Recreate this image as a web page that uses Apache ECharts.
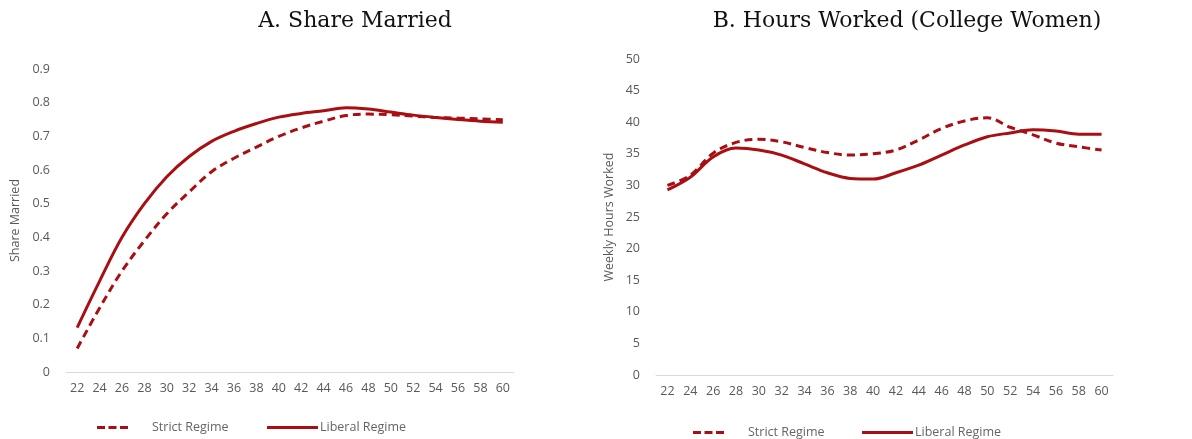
<!DOCTYPE html>
<html>
<head>
<meta charset="utf-8">
<script src="https://cdn.jsdelivr.net/npm/echarts@6/dist/echarts.min.js"></script>
<style>
html, body { margin: 0; padding: 0; background: #fff; }
#chart { width: 1192px; height: 439px; }
</style>
</head>
<body>
<div id="chart"></div>
<script>
// Ages shown on both horizontal axes
const ages = ['22','24','26','28','30','32','34','36','38','40','42','44','46','48','50','52','54','56','58','60'];

// Panel A: share of women married by age
const marriedStrict  = [0.07, 0.19, 0.30, 0.39, 0.47, 0.535, 0.595, 0.635, 0.668, 0.70, 0.725, 0.745, 0.762, 0.766, 0.764, 0.760, 0.756, 0.754, 0.752, 0.749];
const marriedLiberal = [0.132, 0.27, 0.40, 0.50, 0.58, 0.64, 0.685, 0.715, 0.738, 0.757, 0.768, 0.776, 0.785, 0.781, 0.772, 0.763, 0.756, 0.750, 0.745, 0.742];

// Panel B: weekly hours worked, college women
const hoursStrict  = [30.0, 31.6, 35.1, 36.8, 37.3, 36.9, 36.0, 35.2, 34.8, 35.0, 35.6, 37.2, 39.0, 40.2, 40.7, 39.2, 38.0, 36.7, 36.1, 35.6];
const hoursLiberal = [29.3, 31.3, 34.5, 35.9, 35.6, 34.8, 33.4, 32.0, 31.1, 31.0, 32.0, 33.2, 34.8, 36.4, 37.7, 38.3, 38.8, 38.6, 38.1, 38.1];

const seriesNames = ['Strict Regime', 'Liberal Regime'];

const RED = '#a90f12';
const GREY = '#595959';
const labelFont = 'Open Sans';

// Legend keys: three short dashes, or one solid bar
const DASH_ICON = 'path://M0,0h8v3h-8z M11.5,0h8v3h-8z M23,0h8v3h-8z';
const SOLID_ICON = 'path://M0,0h51v3h-51z';

function catAxis(gridIndex) {
  return {
    type: 'category', gridIndex, data: ages, boundaryGap: true,
    axisLine: { show: true, lineStyle: { color: '#d9d9d9', width: 1 } },
    axisTick: { show: false },
    axisLabel: { color: GREY, fontFamily: labelFont, fontSize: 12.5, margin: 10, interval: 0 }
  };
}
function valAxis(gridIndex, min, max, interval, name, nameGap, fmt) {
  return {
    type: 'value', gridIndex, min, max, interval, name,
    nameLocation: 'middle', nameGap,
    nameTextStyle: { color: GREY, fontFamily: labelFont, fontSize: 12.5 },
    axisLine: { show: false }, axisTick: { show: false },
    splitLine: { show: false },
    axisLabel: { color: GREY, fontFamily: labelFont, fontSize: 12.5, margin: 16, formatter: fmt }
  };
}
function lineSeries(name, data, idx, dashed) {
  return {
    name, type: 'line', data, xAxisIndex: idx, yAxisIndex: idx,
    smooth: 0.35, symbol: 'none',
    lineStyle: { color: RED, width: 3, type: dashed ? [8, 5] : 'solid' },
    itemStyle: { color: RED }
  };
}
function legendItem(name, icon, left, top, itemWidth, textPad) {
  return {
    data: [{ name, icon }], left, top, itemWidth, itemHeight: 3.5,
    padding: 0, selectedMode: false,
    itemStyle: { color: RED },
    textStyle: { color: '#666666', fontFamily: labelFont, fontSize: 12.5, padding: [0, 0, 0, textPad] }
  };
}

const chart = echarts.init(document.getElementById('chart'), null, { renderer: 'canvas' });
chart.setOption({
  animation: false,
  backgroundColor: '#ffffff',
  title: [
    { text: 'A. Share Married', left: 350, top: 5, textAlign: 'center',
      textStyle: { fontFamily: 'DejaVu Serif', fontWeight: 'normal', fontSize: 22, color: '#111' } },
    { text: 'B. Hours Worked (College Women)', left: 902, top: 5, textAlign: 'center',
      textStyle: { fontFamily: 'DejaVu Serif', fontWeight: 'normal', fontSize: 22, color: '#111' } }
  ],
  legend: [
    legendItem(seriesNames[0], DASH_ICON, 97, 421, 31, 19),
    legendItem(seriesNames[1], SOLID_ICON, 267, 421, 51, -3),
    legendItem(seriesNames[0], DASH_ICON, 693, 426, 31, 19),
    legendItem(seriesNames[1], SOLID_ICON, 862, 426, 51, -3)
  ],
  grid: [
    { left: 66, right: 678, top: 69, bottom: 67 },
    { left: 656, right: 79, top: 59, bottom: 64 }
  ],
  xAxis: [catAxis(0), catAxis(1)],
  yAxis: [
    valAxis(0, 0, 0.9, 0.1, 'Share Married', 44, v => (Math.round(v * 10) / 10).toString()),
    valAxis(1, 0, 50, 5, 'Weekly Hours Worked', 40, v => v)
  ],
  series: [
    lineSeries(seriesNames[0], marriedStrict, 0, true),
    lineSeries(seriesNames[1], marriedLiberal, 0, false),
    lineSeries(seriesNames[0], hoursStrict, 1, true),
    lineSeries(seriesNames[1], hoursLiberal, 1, false)
  ]
});
</script>
</body>
</html>
